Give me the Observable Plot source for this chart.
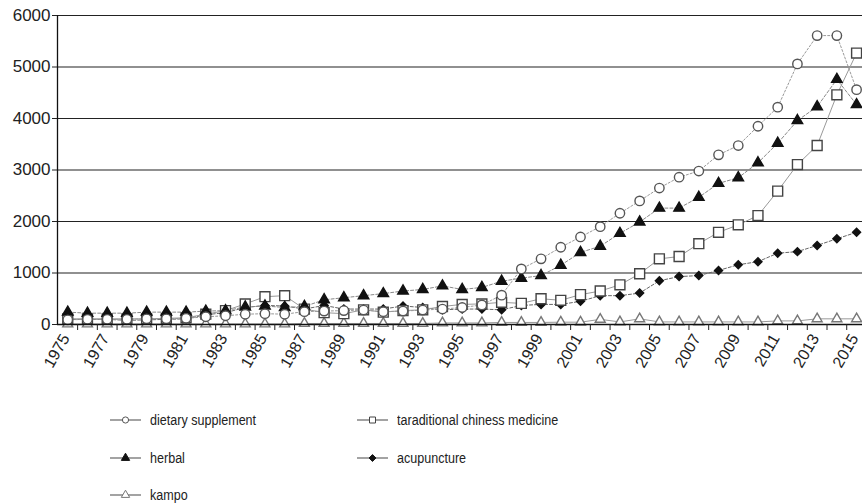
<!DOCTYPE html>
<html>
<head>
<meta charset="utf-8">
<script src="https://cdn.jsdelivr.net/npm/d3@7"></script>
<script src="https://cdn.jsdelivr.net/npm/@observablehq/plot@0.6"></script>
<style>
  html, body { margin: 0; padding: 0; background: #fff; }
  #wrap { position: relative; width: 862px; height: 504px; overflow: hidden; }
  #legend { position: absolute; left: 0; top: 390px; width: 862px; height: 114px;
    font-family: "Liberation Sans", Arial, sans-serif; font-size: 15.5px; color: #222; }
  .item { position: absolute; display: flex; align-items: center; height: 20px; white-space: nowrap; }
  .item svg { margin-right: 9px; flex: none; }
  .item span { display: inline-block; transform: scaleX(0.81); transform-origin: left center; }
</style>
</head>
<body>
<div id="wrap">
  <div id="chart"></div>
  <div id="legend"></div>
</div>
<script>
const years = d3.range(1975, 2016);
const seriesNames = ["dietary supplement", "taraditional chiness medicine", "herbal", "acupuncture", "kampo"];
const dietarySupplement = [90,100,100,100,110,110,120,150,170,200,210,200,250,260,270,280,250,260,280,300,330,380,570,1080,1275,1500,1700,1900,2160,2400,2650,2860,2980,3295,3475,3850,4220,5060,5610,5610,4560];
const tcm = [110,110,110,110,110,120,130,200,270,400,540,560,300,230,210,285,240,270,285,350,390,400,430,410,500,470,580,650,770,985,1275,1320,1570,1790,1935,2115,2590,3105,3475,4460,5270];
const herbal = [240,220,220,220,240,240,240,260,270,340,360,330,350,480,520,560,600,650,680,750,680,720,840,900,950,1150,1400,1520,1770,1990,2260,2260,2470,2740,2850,3140,3520,3960,4230,4760,4270];
const acupuncture = [100,100,100,80,90,100,110,190,230,330,370,360,300,370,300,300,300,360,330,285,300,300,285,370,390,390,450,560,560,610,850,930,950,1050,1160,1220,1385,1415,1535,1665,1790];
const kampo = [10,10,10,10,10,10,10,10,10,10,10,10,20,20,20,20,20,20,20,30,30,30,40,40,40,45,45,100,50,110,50,50,50,50,50,50,70,70,110,110,110];
const yTicks = [0,1000,2000,3000,4000,5000,6000];
const xLabelYears = years.filter(y => y % 2 === 1);
const xTickPositions = d3.range(1975.5, 2015, 1);

const styles = {
  "dietary supplement": {values: dietarySupplement, symbol: "circle", fill: "white", stroke: "#555", r: 4.7, dash: "2,2", lineColor: "#999"},
  "taraditional chiness medicine": {values: tcm, symbol: "square", fill: "white", stroke: "#444", r: 5.6, dash: null, lineColor: "#999"},
  "herbal": {values: herbal, symbol: "triangle", fill: "#111", stroke: "#111", r: 3.9, dash: "3,2", lineColor: "#888"},
  "acupuncture": {values: acupuncture, symbol: "diamond2", fill: "#111", stroke: "#111", r: 3.6, dash: "3,2", lineColor: "#666"},
  "kampo": {values: kampo, symbol: "triangle", fill: "white", stroke: "#777", r: 3.7, dash: null, lineColor: "#999"}
};

const drawOrder = ["kampo", "acupuncture", "taraditional chiness medicine", "herbal", "dietary supplement"];
const rows = s => years.map((y, i) => ({year: y, value: styles[s].values[i], series: s}));

const marks = [
  Plot.ruleY([1000,2000,3000,4000,5000,6000], {stroke: "#222", strokeWidth: 1.2}),
];
for (const s of drawOrder) {
  const st = styles[s];
  marks.push(Plot.line(rows(s), {x: "year", y: "value", stroke: st.lineColor, strokeWidth: 1, strokeDasharray: st.dash}));
}
for (const s of drawOrder) {
  const st = styles[s];
  marks.push(Plot.dot(rows(s), {x: "year", y: "value", symbol: () => st.symbol, r: st.r, fill: st.fill, stroke: st.stroke, strokeWidth: 1.4}));
}
marks.push(
  Plot.ruleY([0], {stroke: "#111", strokeWidth: 1.3}),
  Plot.ruleX([1974.48], {y1: 0, y2: 6000, stroke: "#111", strokeWidth: 1.3}),
  Plot.axisY({ticks: yTicks, tickSize: 5, tickPadding: 2, fontSize: 17, label: null, tickFormat: d => String(d)}),
  Plot.axisX({ticks: xTickPositions, tickSize: 6, tickFormat: () => "", label: null}),
  Plot.axisX({ticks: xLabelYears, tickSize: 0, tickRotate: -60, tickPadding: 11, dx: -2, fontSize: 16, label: null, tickFormat: d => String(d)})
);

const chart = Plot.plot({
  width: 862,
  height: 390,
  marginTop: 15,
  marginBottom: 66,
  marginLeft: 57,
  marginRight: 0,
  style: {fontFamily: "'Liberation Sans', Arial, sans-serif", color: "#222", background: "white"},
  x: {type: "linear", domain: [1974.48, 2015.3]},
  y: {domain: [0, 6000]},
  symbol: {type: "identity"},
  marks
});
document.getElementById("chart").appendChild(chart);

// Legend
const legendPos = [
  {s: "dietary supplement", x: 110, y: 30},
  {s: "taraditional chiness medicine", x: 357, y: 30},
  {s: "herbal", x: 110, y: 68},
  {s: "acupuncture", x: 357, y: 68},
  {s: "kampo", x: 110, y: 105}
];
const symTypes = {circle: d3.symbolCircle, square: d3.symbolSquare, triangle: d3.symbolTriangle, diamond2: d3.symbolDiamond2};
const legend = document.getElementById("legend");
for (const p of legendPos) {
  const st = styles[p.s];
  const div = document.createElement("div");
  div.className = "item";
  div.style.left = p.x + "px";
  div.style.top = (p.y - 10) + "px";
  const sym = d3.symbol(symTypes[st.symbol], st.symbol === "square" ? 36 : 30)();
  div.innerHTML = `<svg width="31" height="20"><line x1="0" x2="31" y1="10" y2="10" stroke="#666" stroke-width="1.2"/>` +
    `<path d="${sym}" transform="translate(15.5,10)" fill="${st.fill}" stroke="${st.stroke}" stroke-width="1"/></svg><span>${p.s}</span>`;
  legend.appendChild(div);
}
</script>
</body>
</html>
